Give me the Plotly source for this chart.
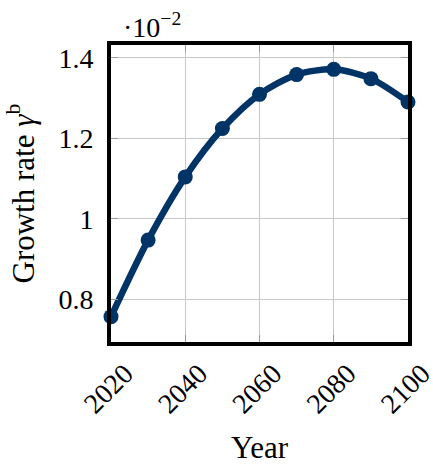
import plotly.graph_objects as go

years = [2020, 2030, 2040, 2050, 2060, 2070, 2080, 2090, 2100]
growth_rate = [0.757, 0.947, 1.104, 1.224, 1.309, 1.358, 1.371, 1.348, 1.290]  # in units of 1e-2

x_ticks = [2020, 2040, 2060, 2080, 2100]
y_ticks = [0.8, 1.0, 1.2, 1.4]
y_tick_text = ["0.8", "1", "1.2", "1.4"]

navy = "#003366"
serif = "Liberation Serif, DejaVu Serif, serif"
tick_size = 28
title_size = 31

fig = go.Figure()
fig.add_trace(go.Scatter(
    x=years, y=growth_rate, mode="lines+markers",
    line=dict(color=navy, width=6.5, shape="spline", smoothing=0.8),
    marker=dict(color=navy, size=15),
    cliponaxis=False, showlegend=False,
))

fig.update_layout(
    width=433, height=464,
    margin=dict(l=111, r=25, t=45, b=122),
    plot_bgcolor="white", paper_bgcolor="white",
    font=dict(family=serif, size=tick_size, color="black"),
    xaxis=dict(
        range=[2020, 2100], tickvals=x_ticks, tickangle=-45,
        showgrid=True, gridcolor="#c8c8c8", gridwidth=1,
        ticks="inside", ticklen=7, tickcolor="#999999", mirror="ticks",
        showline=True, linecolor="black", linewidth=4,
        zeroline=False, ticklabelstandoff=0, ticklabelshift=14,
        ticklabeloverflow="allow", automargin=False,
        tickfont=dict(family=serif, size=tick_size),
    ),
    yaxis=dict(
        range=[0.694, 1.4315], tickvals=y_ticks, ticktext=y_tick_text,
        showgrid=True, gridcolor="#c8c8c8", gridwidth=1,
        ticks="inside", ticklen=7, tickcolor="#999999", mirror="ticks",
        showline=True, linecolor="black", linewidth=4,
        zeroline=False, ticklabelstandoff=8, automargin=False,
        tickfont=dict(family=serif, size=tick_size),
    ),
    annotations=[
        dict(text="·10<sup>−2</sup>", xref="paper", yref="paper", x=0.034, y=1.0,
             xanchor="left", yanchor="middle", yshift=20, showarrow=False,
             font=dict(family=serif, size=tick_size)),
        dict(text="Year", xref="paper", yref="paper", x=0.5, y=0,
             xanchor="center", yanchor="middle", yshift=-105, showarrow=False,
             font=dict(family=serif, size=title_size)),
        dict(text="Growth rate <i>γ</i><sup>b</sup>", xref="paper", yref="paper",
             x=0, y=0.5, xanchor="center", yanchor="middle", xshift=-90,
             textangle=-90, showarrow=False, font=dict(family=serif, size=title_size)),
    ],
)

fig.write_html("out.html")
